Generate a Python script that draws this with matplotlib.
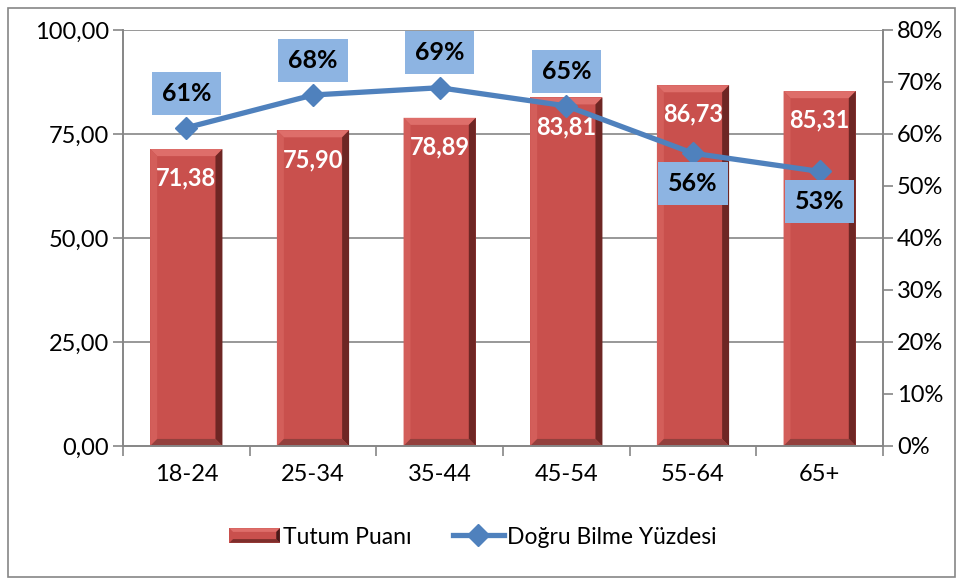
import numpy as np
import matplotlib.pyplot as plt
from matplotlib.patches import Polygon, Rectangle
from matplotlib.lines import Line2D
from matplotlib.legend_handler import HandlerBase

plt.rcParams['font.family'] = ['Lato', 'DejaVu Sans']

# data
groups = ['18-24', '25-34', '35-44', '45-54', '55-64', '65+']
tutum = [71.38, 75.90, 78.89, 83.81, 86.73, 85.31]
dogru = [61.2, 67.5, 68.9, 65.4, 56.3, 52.8]   # percent
label_above = [True, True, True, True, False, False]

bar_red = '#C9504D'
line_blue = '#4F81BD'
box_blue = '#8DB4E2'
grey = '#868686'

fig = plt.figure(figsize=(9.64, 5.81), dpi=100)
ax = fig.add_axes([123/964, 1-446/581, 760/964, 416/581])
ax2 = ax.twinx()

x = np.arange(len(groups))
w = 0.57

ax.set_xlim(-0.5, len(groups) - 0.5)
ax.set_ylim(0, 100)
ax2.set_ylim(0, 80)

# bevelled bars
bx = 0.055   # bevel width in x units
by = 1.7     # bevel height in y units
for xi, v in zip(x, tutum):
    l, r = xi - w/2, xi + w/2
    ax.add_patch(Rectangle((l, 0), w, v, facecolor=bar_red, edgecolor='none', zorder=2))
    ax.add_patch(Polygon([(l, v), (r, v), (r - bx, v - by), (l + bx, v - by)],
                         facecolor='#DE6E6A', edgecolor='none', zorder=2))
    ax.add_patch(Polygon([(l, 0), (l, v), (l + bx, v - by), (l + bx, by)],
                         facecolor='#D35E5A', edgecolor='none', zorder=2))
    ax.add_patch(Polygon([(r, 0), (r, v), (r - bx, v - by), (r - bx, by)],
                         facecolor='#6E2624', edgecolor='none', zorder=2))
    ax.add_patch(Polygon([(l, 0), (r, 0), (r - bx, by), (l + bx, by)],
                         facecolor='#93403D', edgecolor='none', zorder=2))
    ax.annotate(f'{v:.2f}'.replace('.', ','), (xi, v), xytext=(0, -21),
                textcoords='offset points', ha='center', va='center',
                color='white', fontsize=17, fontweight='bold', zorder=3)

# grid and axes styling
for yv in np.arange(25, 101, 25):
    ax.axhline(yv, color=grey, lw=1.2, zorder=1)
ax.set_yticks(np.arange(0, 101, 25))
ax.set_yticklabels([f'{v:.2f}'.replace('.', ',') for v in np.arange(0, 101, 25)])
ax2.set_yticks(np.arange(0, 81, 10))
ax2.set_yticklabels([f'{v}%' for v in range(0, 81, 10)])
ax.set_xticks(x)
ax.set_xticklabels(groups)
ax.set_xticks(np.arange(-0.5, len(groups)), minor=True)
ax.tick_params(axis='x', which='major', length=0, pad=13, labelsize=17)
ax.tick_params(axis='x', which='minor', length=7, color=grey, width=1.2, direction='out')
ax.tick_params(axis='y', length=7, color=grey, width=1.2, labelsize=17, pad=3)
ax2.tick_params(axis='y', length=7, color=grey, width=1.2, labelsize=17, pad=3)
for a in (ax, ax2):
    a.spines['top'].set_visible(False)
    for s in ('left', 'right', 'bottom'):
        a.spines[s].set_color(grey)
        a.spines[s].set_linewidth(1.2)

# line
ax2.plot(x, dogru, color=line_blue, lw=3.8, marker='D', ms=11,
         markerfacecolor=line_blue, markeredgecolor=line_blue, zorder=4)
for xi, v, up in zip(x, dogru, label_above):
    ax2.annotate(f'{round(v)}%', (xi, v), xytext=(0, 25 if up else -22),
                 textcoords='offset points', ha='center', va='center',
                 fontsize=18, fontweight='bold', color='black', zorder=5,
                 bbox=dict(boxstyle='square,pad=0.4', facecolor=box_blue, edgecolor='none'))


# legend
class BevelHandler(HandlerBase):
    def create_artists(self, legend, orig, xd, yd, width, height, fontsize, trans):
        y0, h = -yd + height*0.05, height*0.9
        x0 = -xd
        b = h*0.25
        arts = [Rectangle((x0, y0), width, h, facecolor=bar_red, edgecolor='none'),
                Polygon([(x0, y0+h), (x0+width, y0+h), (x0+width-b, y0+h-b), (x0+b, y0+h-b)],
                        facecolor='#DE6E6A', edgecolor='none'),
                Polygon([(x0, y0), (x0+width, y0), (x0+width-b, y0+b), (x0+b, y0+b)],
                        facecolor='#7E2E2C', edgecolor='none'),
                Polygon([(x0+width, y0), (x0+width, y0+h), (x0+width-b, y0+h-b), (x0+width-b, y0+b)],
                        facecolor='#4A1A19', edgecolor='none')]
        for a in arts:
            a.set_transform(trans)
        return arts


bar_handle = Rectangle((0, 0), 1, 1)
line_handle = Line2D([], [], color=line_blue, lw=3.8, marker='D', ms=11)
fig.legend([bar_handle, line_handle], ['Tutum Puanı', 'Doğru Bilme Yüzdesi'],
           handler_map={Rectangle: BevelHandler()},
           loc='center', bbox_to_anchor=(473/964, 1 - 537/581), ncol=2, frameon=False,
           fontsize=16.5, handlelength=2.2, handletextpad=0.15, columnspacing=1.8)

# outer border
fig.patches.append(Rectangle((8/964, 4/581), 947/964, 569/581, transform=fig.transFigure,
                             facecolor='none', edgecolor=grey, lw=1.2))

fig.savefig('out.png', dpi=100)
